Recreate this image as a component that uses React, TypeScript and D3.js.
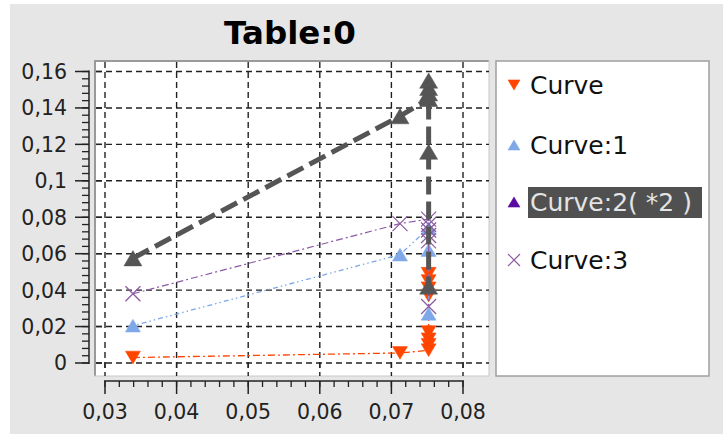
import * as d3 from "d3";

// data
const curve0: [number, number][] = [
  [0.0339, 0.003], [0.0712, 0.0055], [0.0752, 0.007], [0.0752, 0.01],
  [0.0752, 0.013], [0.0752, 0.017], [0.0752, 0.037], [0.0752, 0.041],
  [0.0752, 0.045], [0.0752, 0.049],
];
const curve1: [number, number][] = [
  [0.0339, 0.0205], [0.0712, 0.0595], [0.0752, 0.074], [0.0752, 0.062], [0.0752, 0.027],
];
const curve2: [number, number][] = [
  [0.0339, 0.0575], [0.0712, 0.1355], [0.0752, 0.145], [0.0752, 0.148],
  [0.0752, 0.151], [0.0752, 0.155], [0.0752, 0.116], [0.0752, 0.042],
];
const curve3: [number, number][] = [
  [0.0339, 0.038], [0.0712, 0.0765], [0.0752, 0.079], [0.0752, 0.076],
  [0.0752, 0.073], [0.0752, 0.07], [0.0752, 0.067], [0.0752, 0.031],
];
const legendLabels = ["Curve", "Curve:1", "Curve:2( *2 )", "Curve:3"];
const xTicks = [0.03, 0.04, 0.05, 0.06, 0.07, 0.08];
const yTicks = [0, 0.02, 0.04, 0.06, 0.08, 0.1, 0.12, 0.14, 0.16];

const W = 723;
const H = 434;
const plot = { left: 94, top: 60, right: 489, bottom: 376 };

const x = d3.scaleLinear().domain([0.03, 0.08]).range([105, 463]);
const y = d3.scaleLinear().domain([0, 0.16]).range([363, 71.5]);

const fmt = (v: number) => String(+v.toFixed(2)).replace(".", ",");

type Marker = "down" | "up" | "x";

const seriesList = [
  { data: curve0, color: "#ff4500", marker: "down" as Marker, width: 1.3, dash: "7,3,2,3", size: 15 },
  { data: curve1, color: "#7ea8e8", marker: "up" as Marker, width: 1.3, dash: "1.5,3,1.5,3,5,3", size: 15 },
  { data: curve3, color: "#8c5aa4", marker: "x" as Marker, width: 1.2, dash: "7,3,2,3", size: 15 },
  { data: curve2, color: "#555555", marker: "up" as Marker, width: 5, dash: "18,7", size: 18 },
];

const legendSymbols = [
  { color: "#ff4500", marker: "down" as Marker },
  { color: "#7ea8e8", marker: "up" as Marker },
  { color: "#5a0a9e", marker: "up" as Marker },
  { color: "#8c5aa4", marker: "x" as Marker },
];

function markerPath(m: Marker, cx: number, cy: number, s: number) {
  const h = s / 2;
  if (m === "down") return `M${cx - h},${cy - h * 0.85}L${cx + h},${cy - h * 0.85}L${cx},${cy + h * 0.85}Z`;
  if (m === "up") return `M${cx - h},${cy + h * 0.85}L${cx + h},${cy + h * 0.85}L${cx},${cy - h * 0.85}Z`;
  return `M${cx - h},${cy - h}L${cx + h},${cy + h}M${cx - h},${cy + h}L${cx + h},${cy - h}`;
}

const line = d3
  .line<[number, number]>()
  .x((d) => x(d[0]))
  .y((d) => y(d[1]));

export default function App() {
  const xMinor = d3.range(0.03, 0.0801, 0.002);
  const yMinor = d3.range(0, 0.1601, 0.004);
  const font = "DejaVu Sans, sans-serif";
  return (
    <div style={{ position: "absolute", left: 0, top: 0 }}>
      <svg width={W} height={H} style={{ display: "block" }} fontFamily={font}>
        <rect width={W} height={H} fill="#ffffff" />
        <rect x={10} y={4} width={W - 10} height={H - 4} fill="#e6e6e6" />
        <text x={290} y={44} textAnchor="middle" fontSize={32.5} fontWeight="bold" fill="#000">
          Table:0
        </text>

        {/* plot area */}
        <rect x={plot.left} y={plot.top} width={plot.right - plot.left} height={plot.bottom - plot.top} fill="#fff" />
        <line x1={plot.left + 1} x2={plot.left + 1} y1={plot.top} y2={plot.bottom} stroke="#9a9a9a" strokeWidth={2} />
        <line x1={plot.left} x2={plot.right} y1={plot.top + 1} y2={plot.top + 1} stroke="#9a9a9a" strokeWidth={2} />
        <line x1={plot.right} x2={plot.right} y1={plot.top} y2={plot.bottom} stroke="#c8c8c8" strokeWidth={1} />
        <line x1={plot.left} x2={plot.right} y1={plot.bottom} y2={plot.bottom} stroke="#c8c8c8" strokeWidth={1} />

        {yTicks.map((t) => (
          <g key={"gy" + t}>
            <line x1={plot.left + 2} x2={plot.right} y1={y(t)} y2={y(t)} stroke="#222" strokeWidth={1.4} strokeDasharray="6,4" />
            <line x1={plot.left + 2} x2={plot.left + 8} y1={y(t)} y2={y(t)} stroke="#222" strokeWidth={1.4} />
          </g>
        ))}
        {xTicks.map((t) => (
          <g key={"gx" + t}>
            <line x1={x(t)} x2={x(t)} y1={plot.top + 2} y2={plot.bottom} stroke="#222" strokeWidth={1.4} strokeDasharray="6,4" />
            <line x1={x(t)} x2={x(t)} y1={plot.bottom - 14} y2={plot.bottom - 8} stroke="#222" strokeWidth={1.4} />
          </g>
        ))}

        {seriesList.map((s, i) => (
          <g key={"s" + i}>
            <path d={line(s.data) ?? ""} fill="none" stroke={s.color} strokeWidth={s.width} strokeDasharray={s.dash} />
            {s.data.map((d, j) => (
              <path
                key={j}
                d={markerPath(s.marker, x(d[0]), y(d[1]), s.size)}
                fill={s.marker === "x" ? "none" : s.color}
                stroke={s.color}
                strokeWidth={s.marker === "x" ? 1.2 : 0.5}
              />
            ))}
          </g>
        ))}

        {/* y axis */}
        <line x1={89} x2={89} y1={y(0.16) - 1} y2={y(0) + 1} stroke="#222" strokeWidth={1.5} />
        {yMinor.map((t, i) => (
          <line key={"ym" + i} x1={82} x2={89} y1={y(t)} y2={y(t)} stroke="#222" strokeWidth={1.3} />
        ))}
        {yTicks.map((t) => (
          <g key={"yt" + t}>
            <line x1={75} x2={89} y1={y(t)} y2={y(t)} stroke="#222" strokeWidth={1.5} />
            <text x={67} y={y(t)} dy="0.36em" textAnchor="end" fontSize={20.5} fill="#222">
              {fmt(t)}
            </text>
          </g>
        ))}

        {/* x axis */}
        <line x1={x(0.03) - 1} x2={x(0.08) + 1} y1={381} y2={381} stroke="#222" strokeWidth={1.5} />
        {xMinor.map((t, i) => (
          <line key={"xm" + i} x1={x(t)} x2={x(t)} y1={381} y2={387} stroke="#222" strokeWidth={1.3} />
        ))}
        {xTicks.map((t) => (
          <g key={"xt" + t}>
            <line x1={x(t)} x2={x(t)} y1={381} y2={394} stroke="#222" strokeWidth={1.5} />
            <text x={x(t)} y={419} textAnchor="middle" fontSize={20.5} fill="#222">
              {fmt(t)}
            </text>
          </g>
        ))}

        {/* legend */}
        <rect x={496} y={61} width={213} height={315} fill="#fff" stroke="#a0a0a0" strokeWidth={1.5} />
        <rect x={528} y={187} width={174} height={31} fill="#505050" />
        {legendLabels.map((label, i) => {
          const cy = [85, 145, 202, 260][i];
          const sym = legendSymbols[i];
          return (
            <g key={"lg" + i}>
              <path
                d={markerPath(sym.marker, 514, cy, 12)}
                fill={sym.marker === "x" ? "none" : sym.color}
                stroke={sym.color}
                strokeWidth={sym.marker === "x" ? 1.2 : 0.5}
              />
              <text x={530} y={cy} dy="0.36em" fontSize={25} fill={i === 2 ? "#e4e4e4" : "#111"}>
                {label}
              </text>
            </g>
          );
        })}
      </svg>
    </div>
  );
}
